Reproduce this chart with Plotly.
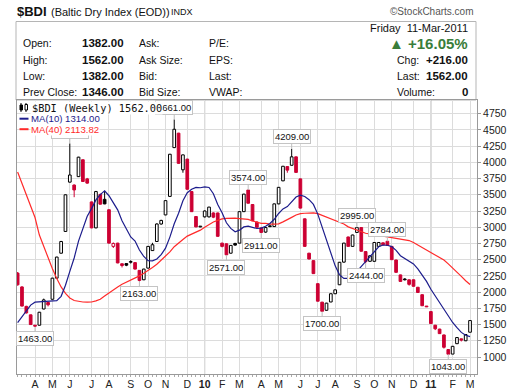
import plotly.graph_objects as go
import pandas as pd

# ---------------- data (weekly bars) ----------------
first_week = "2009-03-09"
opens = [2293, 2080, 1780, 1650, 1490, 1490, 1740, 1840, 1890, 2215,
         2600, 2935, 3695, 3650, 3780, 4040, 3745, 3390, 2990, 3505,
         3430, 3270, 2705, 2755, 2437, 2440, 2460, 2455, 2335, 2190,
         2370, 2640, 2780, 3050, 3190, 3475, 4227, 4450, 3885, 4050,
         3550, 3165, 3005, 3160, 3160, 3220, 3220, 2755, 2745, 2600,
         2750, 2755, 3240, 3574, 3350, 3080, 2990, 2925, 3015, 3010,
         3360, 3715, 3935, 3955, 4085, 3745, 3130, 2600, 2485, 2130,
         1845, 1720, 1848, 1975, 2113, 2462, 2850, 2705, 2920, 2995,
         2625, 2475, 2475, 2705, 2760, 2784, 2705, 2495, 2265, 2195,
         2190, 2190, 2075, 1960, 1780, 1700, 1490, 1430, 1340, 1115,
         1045, 1205, 1280, 1250, 1382]
highs = [2310, 2090, 1790, 1655, 1495, 1695, 1900, 1845, 2220, 2545,
         2790, 3505, 4291, 3660, 4085, 4045, 3760, 3395, 3560, 3520,
         3560, 3275, 2765, 2760, 2440, 2445, 2490, 2460, 2340, 2360,
         2710, 2760, 3060, 3115, 3415, 4130, 4661, 4455, 4120, 4055,
         3555, 3170, 3010, 3260, 3315, 3230, 3225, 2760, 2750, 2725,
         2760, 3245, 3515, 3574, 3355, 3090, 2995, 3000, 3025, 3365,
         3620, 3945, 3940, 4209, 4090, 3750, 3135, 2605, 2490, 2135,
         1850, 1835, 1980, 2040, 2465, 2760, 2855, 2885, 2995, 2995,
         2630, 2565, 2770, 2770, 2765, 2784, 2710, 2500, 2270, 2215,
         2195, 2195, 2080, 1965, 1785, 1705, 1495, 1435, 1345, 1120,
         1170, 1305, 1285, 1350, 1562]
lows = [2100, 1780, 1670, 1495, 1463, 1485, 1735, 1780, 1885, 2210,
        2595, 2930, 3690, 3463, 3775, 3700, 3670, 2985, 2985, 3350,
        3355, 2750, 2680, 2445, 2380, 2400, 2440, 2350, 2163, 2185,
        2365, 2640, 2775, 3040, 3185, 3470, 4220, 3980, 3840, 3580,
        3235, 3000, 3000, 3150, 3150, 3140, 2855, 2690, 2571, 2595,
        2715, 2750, 3235, 3365, 3095, 2990, 2911, 2915, 3000, 3005,
        3355, 3710, 3840, 3950, 3840, 3290, 2700, 2505, 2280, 1855,
        1700, 1715, 1845, 1970, 2110, 2455, 2700, 2700, 2915, 2625,
        2444, 2470, 2470, 2700, 2720, 2715, 2495, 2300, 2160, 2180,
        2100, 2085, 1990, 1785, 1770, 1510, 1415, 1355, 1130, 1043,
        1045, 1200, 1240, 1245, 1382]
closes = [2113, 1785, 1680, 1500, 1475, 1690, 1880, 1805, 2215, 2540,
          2780, 3500, 3805, 3575, 4080, 3705, 3680, 2990, 3550, 3355,
          3360, 2755, 2750, 2450, 2410, 2415, 2465, 2355, 2180, 2355,
          2705, 2730, 3050, 3105, 3410, 4125, 4510, 3985, 4115, 3585,
          3240, 3005, 3005, 3250, 3310, 3155, 2860, 2705, 2575, 2720,
          2725, 3240, 3510, 3370, 3100, 3000, 2920, 2995, 3010, 3360,
          3615, 3940, 3880, 4085, 3845, 3295, 2705, 2510, 2285, 1860,
          1705, 1830, 1975, 2035, 2460, 2755, 2705, 2880, 2995, 2630,
          2470, 2560, 2765, 2765, 2730, 2720, 2500, 2305, 2165, 2190,
          2120, 2090, 1995, 1790, 1773, 1515, 1435, 1360, 1150, 1043,
          1165, 1300, 1260, 1346, 1562]
# moving-average values before enough bars exist on the chart
ma10_lead = [1530, 1620, 1710, 1800, 1845, 1850, 1850, 1850, 1855]
ma40_lead = [3850, 3680, 3510, 3340, 3150, 2880, 2700, 2520, 2360, 2210,
             2080, 1980, 1910, 1870, 1855, 1848, 1845, 1848, 1865, 1890,
             1940, 1990, 2040, 2080, 2120, 2150, 2185, 2215, 2250, 2290,
             2330, 2380, 2430, 2490, 2550, 2620, 2700, 2760, 2810]
y_ticks = [1000, 1250, 1500, 1750, 2000, 2250, 2500, 2750, 3000, 3250,
           3500, 3750, 4000, 4250, 4500, 4750]
peak_bars = [12, 36, 53, 63, 78, 85]
trough_bars = [4, 28, 48, 56, 70, 80, 99]
month_letters = ["J", "F", "M", "A", "M", "J", "J", "A", "S", "O", "N", "D"]

# ---------------- derived ----------------
n = len(closes)
dates = pd.date_range(first_week, periods=n, freq="7D")
cs = pd.Series(closes, dtype=float)
ma10 = ma10_lead + list(cs.rolling(10).mean().iloc[9:])
ma40 = ma40_lead + list(cs.rolling(40).mean().iloc[39:])

RED = "#cc0033"
BLACK = "#000000"
fills, edges, base, height = [], [], [], []
for i in range(n):
    o, c = opens[i], closes[i]
    prev = closes[i - 1] if i > 0 else o
    up = c >= prev
    col = BLACK if up else RED
    edges.append(col)
    fills.append("#ffffff" if c >= o else col)
    base.append(min(o, c))
    height.append(max(abs(c - o), 12))

wick = {BLACK: ([], []), RED: ([], [])}
for i in range(n):
    xs, ys = wick[edges[i]]
    top, bot = max(opens[i], closes[i]), min(opens[i], closes[i])
    xs += [dates[i], dates[i], None, dates[i], dates[i], None]
    ys += [highs[i], top, None, bot, lows[i], None]

WEEK_MS = 7 * 86400000
fig = go.Figure()
for col, (xs, ys) in wick.items():
    fig.add_trace(go.Scatter(x=xs, y=ys, mode="lines", line=dict(color=col, width=1),
                             hoverinfo="skip", showlegend=False))
fig.add_trace(go.Bar(x=dates, y=height, base=base, width=0.62 * WEEK_MS,
                     marker=dict(color=fills, line=dict(color=edges, width=1)),
                     showlegend=False, hoverinfo="skip"))
fig.add_trace(go.Scatter(x=dates, y=ma40, mode="lines", line=dict(color="#ff2a2a", width=1.2),
                         showlegend=False, hoverinfo="skip"))
fig.add_trace(go.Scatter(x=dates, y=ma10, mode="lines", line=dict(color="#1c1c8c", width=1.2),
                         showlegend=False, hoverinfo="skip"))

# month ticks at first bar of each month
tickvals, ticktext, year_lines = [], [], []
for i in range(1, n):
    if dates[i].month != dates[i - 1].month:
        tickvals.append(dates[i])
        if dates[i].month == 1:
            ticktext.append("<b>%02d</b>" % (dates[i].year % 100))
            year_lines.append(dates[i])
        else:
            ticktext.append(month_letters[dates[i].month - 1])

# ---------------- layout ----------------
L, R, T, B = 17, 43, 100, 17
W, H = 520, 391
PW, PH = W - L - R, H - T - B


def fx(x):
    return (x - L) / PW


def fy(y):
    return (H - B - y) / PH


SANS = "Liberation Sans, Arial, sans-serif"
ann = []


def note(text, x, y, anchor="left", size=10.5, color="#111111", family=SANS, bg=None):
    d = dict(text=text, x=fx(x), y=fy(y), xref="paper", yref="paper", showarrow=False,
             xanchor=anchor, yanchor="middle", font=dict(size=size, color=color, family=family))
    if bg:
        d.update(bgcolor=bg, borderpad=0)
    ann.append(d)


# value labels
for i in peak_bars:
    ann.append(dict(x=dates[i], y=highs[i], text="%.2f" % highs[i], showarrow=True, arrowhead=0,
                    arrowcolor="#bdbdbd", arrowwidth=1, ax=0, ay=-12, bgcolor="#ffffff",
                    bordercolor="#c4c4c4", borderwidth=1, borderpad=1,
                    font=dict(size=9.5, color="#111", family=SANS)))
for i in trough_bars:
    ann.append(dict(x=dates[i], y=lows[i], text="%.2f" % lows[i], showarrow=True, arrowhead=0,
                    arrowcolor="#bdbdbd", arrowwidth=1, ax=0, ay=12, bgcolor="#ffffff",
                    bordercolor="#c4c4c4", borderwidth=1, borderpad=1,
                    font=dict(size=9.5, color="#111", family=SANS)))

# header
note("<b>$BDI</b>", 15, 11.5, size=13)
note("(Baltic Dry Index (EOD))", 49, 12, size=11)
note("INDX", 169, 12, size=9)
note("\u00a9StockCharts.com", 476, 12, anchor="right", size=10, color="#555555")
note("Friday\u00a0 11-Mar-2011", 470, 28.5, anchor="right", size=11)
rows_y = [43.5, 60, 76.5, 92]
for lab, y in zip(["Open:", "High:", "Low:", "Prev Close:"], rows_y):
    note(lab, 21, y)
for val, y in zip(["1382.00", "1562.00", "1382.00", "1346.00"], rows_y):
    note("<b>%s</b>" % val, 126, y, anchor="right", size=11.5)
for lab, y in zip(["Ask:", "Ask Size:", "Bid:", "Bid Size:"], rows_y):
    note(lab, 137, y)
for lab, y in zip(["P/E:", "EPS:", "Last:", "VWAP:"], rows_y):
    note(lab, 207, y)
note("<b>\u25B2 +16.05%</b>", 470, 43, anchor="right", size=15, color="#3a7d3a")
for lab, val, y in zip(["Chg:", "Last:", "Volume:"], ["+216.00", "1562.00", "0"], rows_y[1:]):
    note(lab, 395, y)
    note("<b>%s</b>" % val, 470, y, anchor="right", size=11.5)

# in-chart legend
note("$BDI (Weekly) 1562.00", 31, 107.5, size=10.3, family="DejaVu Sans Mono, monospace", bg="#ffffff")
note("MA(10) 1314.00", 29.5, 118.7, size=9.6, color="#1c1c8c", bg="#ffffff")
note("MA(40) 2113.82", 29.5, 129.2, size=9.6, color="#ff2a2a", bg="#ffffff")

shapes = [
    dict(type="rect", xref="paper", yref="paper", x0=fx(16), x1=fx(476), y0=fy(100), y1=fy(21.5),
         line=dict(color="#b5b5b5", width=1), layer="below"),
    dict(type="line", xref="paper", yref="paper", x0=fx(19.5), x1=fx(28.5), y0=fy(118.7), y1=fy(118.7),
         line=dict(color="#1c1c8c", width=2)),
    dict(type="line", xref="paper", yref="paper", x0=fx(19.5), x1=fx(28.5), y0=fy(129.2), y1=fy(129.2),
         line=dict(color="#ff2a2a", width=2)),
    # tiny candle icon
    dict(type="line", xref="paper", yref="paper", x0=fx(21), x1=fx(21), y0=fy(103), y1=fy(112),
         line=dict(color="#000", width=1)),
    dict(type="rect", xref="paper", yref="paper", x0=fx(20), x1=fx(22.5), y0=fy(110), y1=fy(105),
         fillcolor="#000", line=dict(color="#000", width=1)),
    dict(type="line", xref="paper", yref="paper", x0=fx(26), x1=fx(26), y0=fy(103), y1=fy(112),
         line=dict(color="#000", width=1)),
    dict(type="rect", xref="paper", yref="paper", x0=fx(25), x1=fx(27.5), y0=fy(110), y1=fy(104.5),
         fillcolor="#fff", line=dict(color="#000", width=1)),
]
for d in year_lines:
    shapes.append(dict(type="line", xref="x", yref="paper", x0=d, x1=d, y0=0, y1=1,
                       line=dict(color="#a8a8a8", width=1), layer="below"))

x_range = [dates[0] - pd.Timedelta(days=1), dates[-1] + pd.Timedelta(hours=269)]

fig.update_layout(
    template="none",
    width=W, height=H, margin=dict(l=L, r=R, t=T, b=B, pad=0, autoexpand=False),
    paper_bgcolor="#ffffff", plot_bgcolor="#ffffff",
    showlegend=False, hovermode=False,
    annotations=ann, shapes=shapes,
    font=dict(family=SANS, color="#111111"),
    xaxis=dict(type="date", range=x_range, tickvals=tickvals, ticktext=ticktext,
               automargin=False,
               ticks="", ticklen=0,
               tickfont=dict(size=10.5, color="#222222", family=SANS),
               showgrid=True, gridcolor="#dcdcdc", gridwidth=1,
               showline=True, linecolor="#9a9a9a", linewidth=1, mirror=True,
               zeroline=False, fixedrange=True,
               minor=dict(ticks="outside", ticklen=2, tickcolor="#aaaaaa",
                          dtick=WEEK_MS, tick0=first_week, showgrid=False)),
    yaxis=dict(side="right", range=[738, 4961], tickvals=y_ticks,
               automargin=False,
               ticks="outside", ticklen=3, tickcolor="#999999",
               tickfont=dict(size=10.5, color="#222222", family=SANS),
               showgrid=True, gridcolor="#dcdcdc", gridwidth=1,
               showline=True, linecolor="#9a9a9a", linewidth=1, mirror=True,
               zeroline=False, fixedrange=True),
)

fig.write_html(
    "out.html",
    config={"displayModeBar": False, "staticPlot": True},
    post_script="document.body.style.margin='0';document.body.style.padding='0';"
                "document.body.style.overflow='hidden';",
)
